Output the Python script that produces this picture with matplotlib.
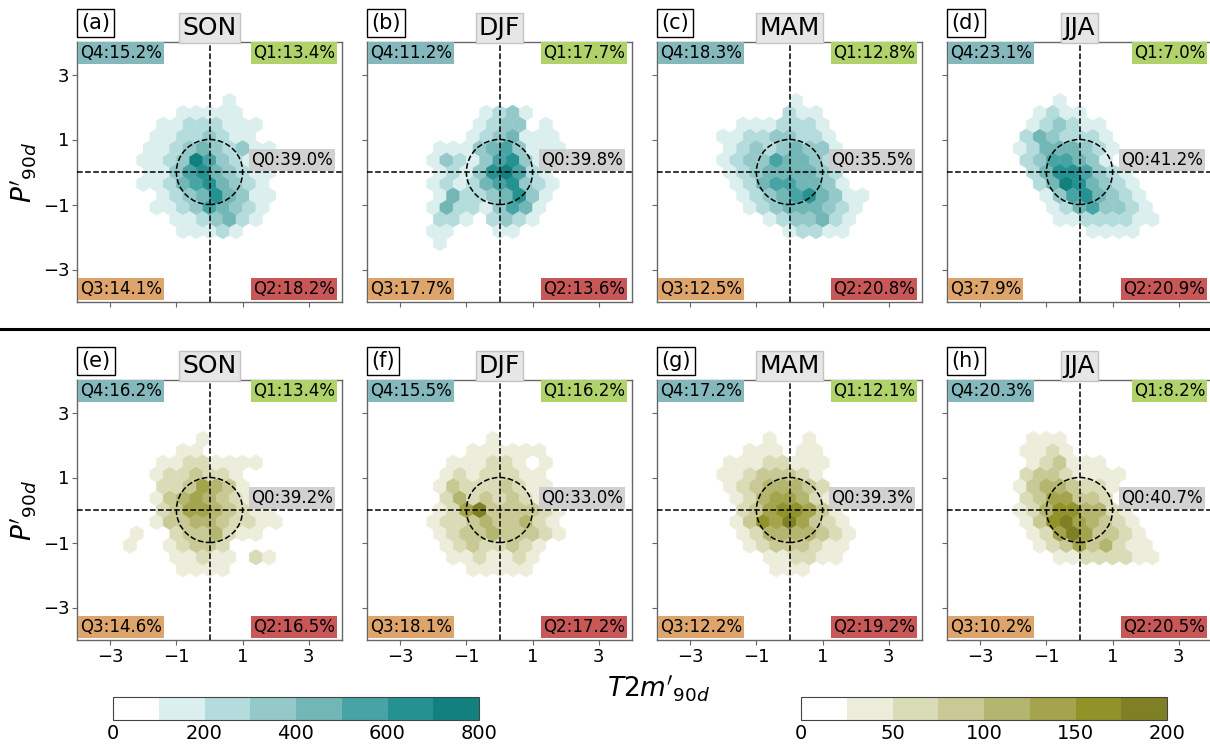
import numpy as np
import matplotlib
matplotlib.use("Agg")
import matplotlib.pyplot as plt
from matplotlib.colors import ListedColormap, BoundaryNorm
from matplotlib.cm import ScalarMappable
from matplotlib.lines import Line2D
from matplotlib.patches import Circle

seasons = ["SON", "DJF", "MAM", "JJA"]
letters_top = ["(a)", "(b)", "(c)", "(d)"]
letters_bot = ["(e)", "(f)", "(g)", "(h)"]

# colour class read from each hexagon (0 = empty)
# one string per hex row, from the row at y=+6*sy/2 down to y=-6*sy/2
son_top = ["0000000100000", "0000111110000", "0011222111000", "0011223211000",
           "0112343231100", "0112375321100", "0113564321100", "0112456432100",
           "0012346431100", "0011235432100", "0001123421000", "0000111210000",
           "0000000000000"]
djf_top = ["0000000000000", "0000012310000", "0000123301000", "0000123411100",
           "0111345311100", "0132135631100", "0121367521000", "0121245632100",
           "0142234631000", "0142213541000", "0221023210000", "0110001100000",
           "0100000000000"]
mam_top = ["0000001000000", "0000002110000", "0011122210000", "0112233221000",
           "0123234331000", "0123354432000", "0123444432000", "0012455443100",
           "0012345643110", "0001234443210", "0000123342100", "0000001221100",
           "0000000000000"]
jja_top = ["0000100000000", "0001211000000", "0012321100000", "0024322210000",
           "0124443210000", "0023554310000", "0024665321000", "0002476432100",
           "0001356432100", "0000124533210", "0000112222110", "0000000111100",
           "0000000000000"]
son_bot = ["0000010000000", "0000110000000", "0011221111000", "0012232210000",
           "0022354310000", "0013454321000", "0023554321100", "0013344322110",
           "1002334211000", "1001233200000", "0001121102100", "0000111100000",
           "0000000000000"]
djf_bot = ["0000010000000", "0000111111000", "0011122101000", "0012122211000",
           "0132223211000", "0024232321000", "0125733332100", "0122343342100",
           "0123343332100", "0012322321000", "0011211210000", "0000111110000",
           "0000000000000"]
mam_bot = ["0000100100000", "0001110110000", "0111221110000", "0112333210000",
           "0123444320000", "0012455421000", "0023566531000", "0013657532100",
           "0012444432100", "0001233321100", "0000112211000", "0000011100000",
           "0000000000000"]
jja_bot = ["0011100000000", "0011210000000", "0012311100000", "0023321111000",
           "0134432210000", "0023553320000", "0124664421000", "0013675432100",
           "0012575332100", "0001235342110", "0000112222110", "0000000000000",
           "0000000000000"]

# quadrant shares: Q4, Q1, Q0, Q3, Q2
q_son_top = [15.2, 13.4, 39.0, 14.1, 18.2]
q_djf_top = [11.2, 17.7, 39.8, 17.7, 13.6]
q_mam_top = [18.3, 12.8, 35.5, 12.5, 20.8]
q_jja_top = [23.1, 7.0, 41.2, 7.9, 20.9]
q_son_bot = [16.2, 13.4, 39.2, 14.6, 16.5]
q_djf_bot = [15.5, 16.2, 33.0, 18.1, 17.2]
q_mam_bot = [17.2, 12.1, 39.3, 12.2, 19.2]
q_jja_bot = [20.3, 8.2, 40.7, 10.2, 20.5]

teal_levels = [0, 100, 200, 300, 400, 500, 600, 700, 800]
olive_levels = [0, 25, 50, 75, 100, 125, 150, 175, 200]

teal = ListedColormap(["#ffffff", "#dcefef", "#b5dcdc", "#95c9c9", "#72b7b6",
                       "#48a4a4", "#259291", "#12807e"])
olive = ListedColormap(["#ffffff", "#ecedda", "#dadcb8", "#c8c994", "#b4b66f",
                        "#a3a44c", "#919228", "#7f8026"])
teal_norm = BoundaryNorm(teal_levels, teal.N)
olive_norm = BoundaryNorm(olive_levels, olive.N)

q_colors = ["#85b8bc", "#b0d26a", "#cccccc", "#dda46c", "#c85858"]

W, H = 1210, 749
fig = plt.figure(figsize=(12.1, 7.49), dpi=100)


def cells(rows, step):
    xs, ys, cs = [], [], []
    for i, row in enumerate(rows):
        r = 6 - i
        x0 = -2.2 if r % 2 == 0 else -2.4
        for c, ch in enumerate(row):
            if ch != "0":
                xs.append(x0 + 0.4 * c)
                ys.append(r * 4 / 11)
                cs.append((int(ch) + 0.5) * step)
    return np.array(xs), np.array(ys), np.array(cs)


def panel(ax, rows, step, cmap, norm, q, letter, season):
    x, y, c = cells(rows, step)
    ax.hexbin(x, y, C=c, gridsize=20, extent=(-4, 4, -4, 4), cmap=cmap,
              norm=norm, linewidths=0.3, edgecolors="face", zorder=1)
    ax.set_xlim(-4, 4)
    ax.set_ylim(-4, 4)
    ax.axhline(0, color="k", ls="--", lw=1.1, zorder=3)
    ax.axvline(0, color="k", ls="--", lw=1.1, zorder=3)
    ax.add_patch(Circle((0, 0), 1, fill=False, ls="--", lw=1.1, ec="k", zorder=3))
    ax.set_xticks([-3, -1, 1, 3])
    ax.set_yticks([-3, -1, 1, 3])
    ax.tick_params(direction="out", length=3.5, width=0.8, color="#666666",
                   labelsize=13, pad=2)
    for s in ax.spines.values():
        s.set_color("#666666")
        s.set_linewidth(1.0)

    fs = 12
    bb = lambda col: dict(boxstyle="square,pad=0.12", fc=col, ec="none")
    ax.text(0.011, 0.992, f"Q4:{q[0]:.1f}%", transform=ax.transAxes, ha="left",
            va="top", fontsize=fs, bbox=bb(q_colors[0]), zorder=5)
    ax.text(0.974, 0.992, f"Q1:{q[1]:.1f}%", transform=ax.transAxes, ha="right",
            va="top", fontsize=fs, bbox=bb(q_colors[1]), zorder=5)
    ax.text(1.26, 0.38, f"Q0:{q[2]:.1f}%", ha="left", va="center", fontsize=fs,
            bbox=dict(boxstyle="square,pad=0.12", fc=q_colors[2], ec="none",
                      alpha=0.9), zorder=5)
    ax.text(0.011, 0.014, f"Q3:{q[3]:.1f}%", transform=ax.transAxes, ha="left",
            va="bottom", fontsize=fs, bbox=bb(q_colors[3]), zorder=5)
    ax.text(0.974, 0.014, f"Q2:{q[4]:.1f}%", transform=ax.transAxes, ha="right",
            va="bottom", fontsize=fs, bbox=bb(q_colors[4]), zorder=5)

    ax.text(0.016, 1.035, letter, transform=ax.transAxes, ha="left", va="bottom",
            fontsize=15, bbox=dict(boxstyle="square,pad=0.2", fc="white",
                                   ec="black", lw=1.0))
    ax.text(0.5, 1.008, season, transform=ax.transAxes, ha="center",
            va="bottom", fontsize=18,
            bbox=dict(boxstyle="square,pad=0.12", fc="#e6e6e6", ec="#c4c4c4",
                      lw=1.0), zorder=6)


lefts = [77, 367, 657, 947]
pw, ph = 265, 260
rows_top = [son_top, djf_top, mam_top, jja_top]
rows_bot = [son_bot, djf_bot, mam_bot, jja_bot]
q_top = [q_son_top, q_djf_top, q_mam_top, q_jja_top]
q_bot = [q_son_bot, q_djf_bot, q_mam_bot, q_jja_bot]

for row_i, (top_px, rows_all, q_all, letters, step, cmap, norm) in enumerate([
        (42, rows_top, q_top, letters_top, 100, teal, teal_norm),
        (380, rows_bot, q_bot, letters_bot, 25, olive, olive_norm)]):
    for k in range(4):
        ax = fig.add_axes([lefts[k] / W, 1 - (top_px + ph) / H, pw / W, ph / H])
        panel(ax, rows_all[k], step, cmap, norm, q_all[k], letters[k], seasons[k])
        if k == 0:
            ax.set_ylabel("$P'_{90d}$", fontsize=19, labelpad=3)
        else:
            ax.set_yticklabels([])
        if row_i == 0:
            ax.set_xticklabels([])

fig.add_artist(Line2D([0, 1], [1 - 329 / H, 1 - 329 / H],
                      transform=fig.transFigure, color="k", lw=2.2))

fig.text(607 / W, 1 - 697 / H, "$T2m'_{90d}$", fontsize=19, ha="left",
         va="baseline")

for left_px, cmap, norm, ticks in [(113, teal, teal_norm, [0, 200, 400, 600, 800]),
                                   (801, olive, olive_norm, [0, 50, 100, 150, 200])]:
    cax = fig.add_axes([left_px / W, 1 - 720 / H, 366 / W, 23 / H])
    cb = fig.colorbar(ScalarMappable(norm=norm, cmap=cmap), cax=cax,
                      orientation="horizontal", ticks=ticks)
    cb.outline.set_edgecolor("#444444")
    cb.ax.minorticks_off()
    cb.ax.tick_params(labelsize=14, length=0, pad=3)

fig.savefig("out.png", dpi=100)
